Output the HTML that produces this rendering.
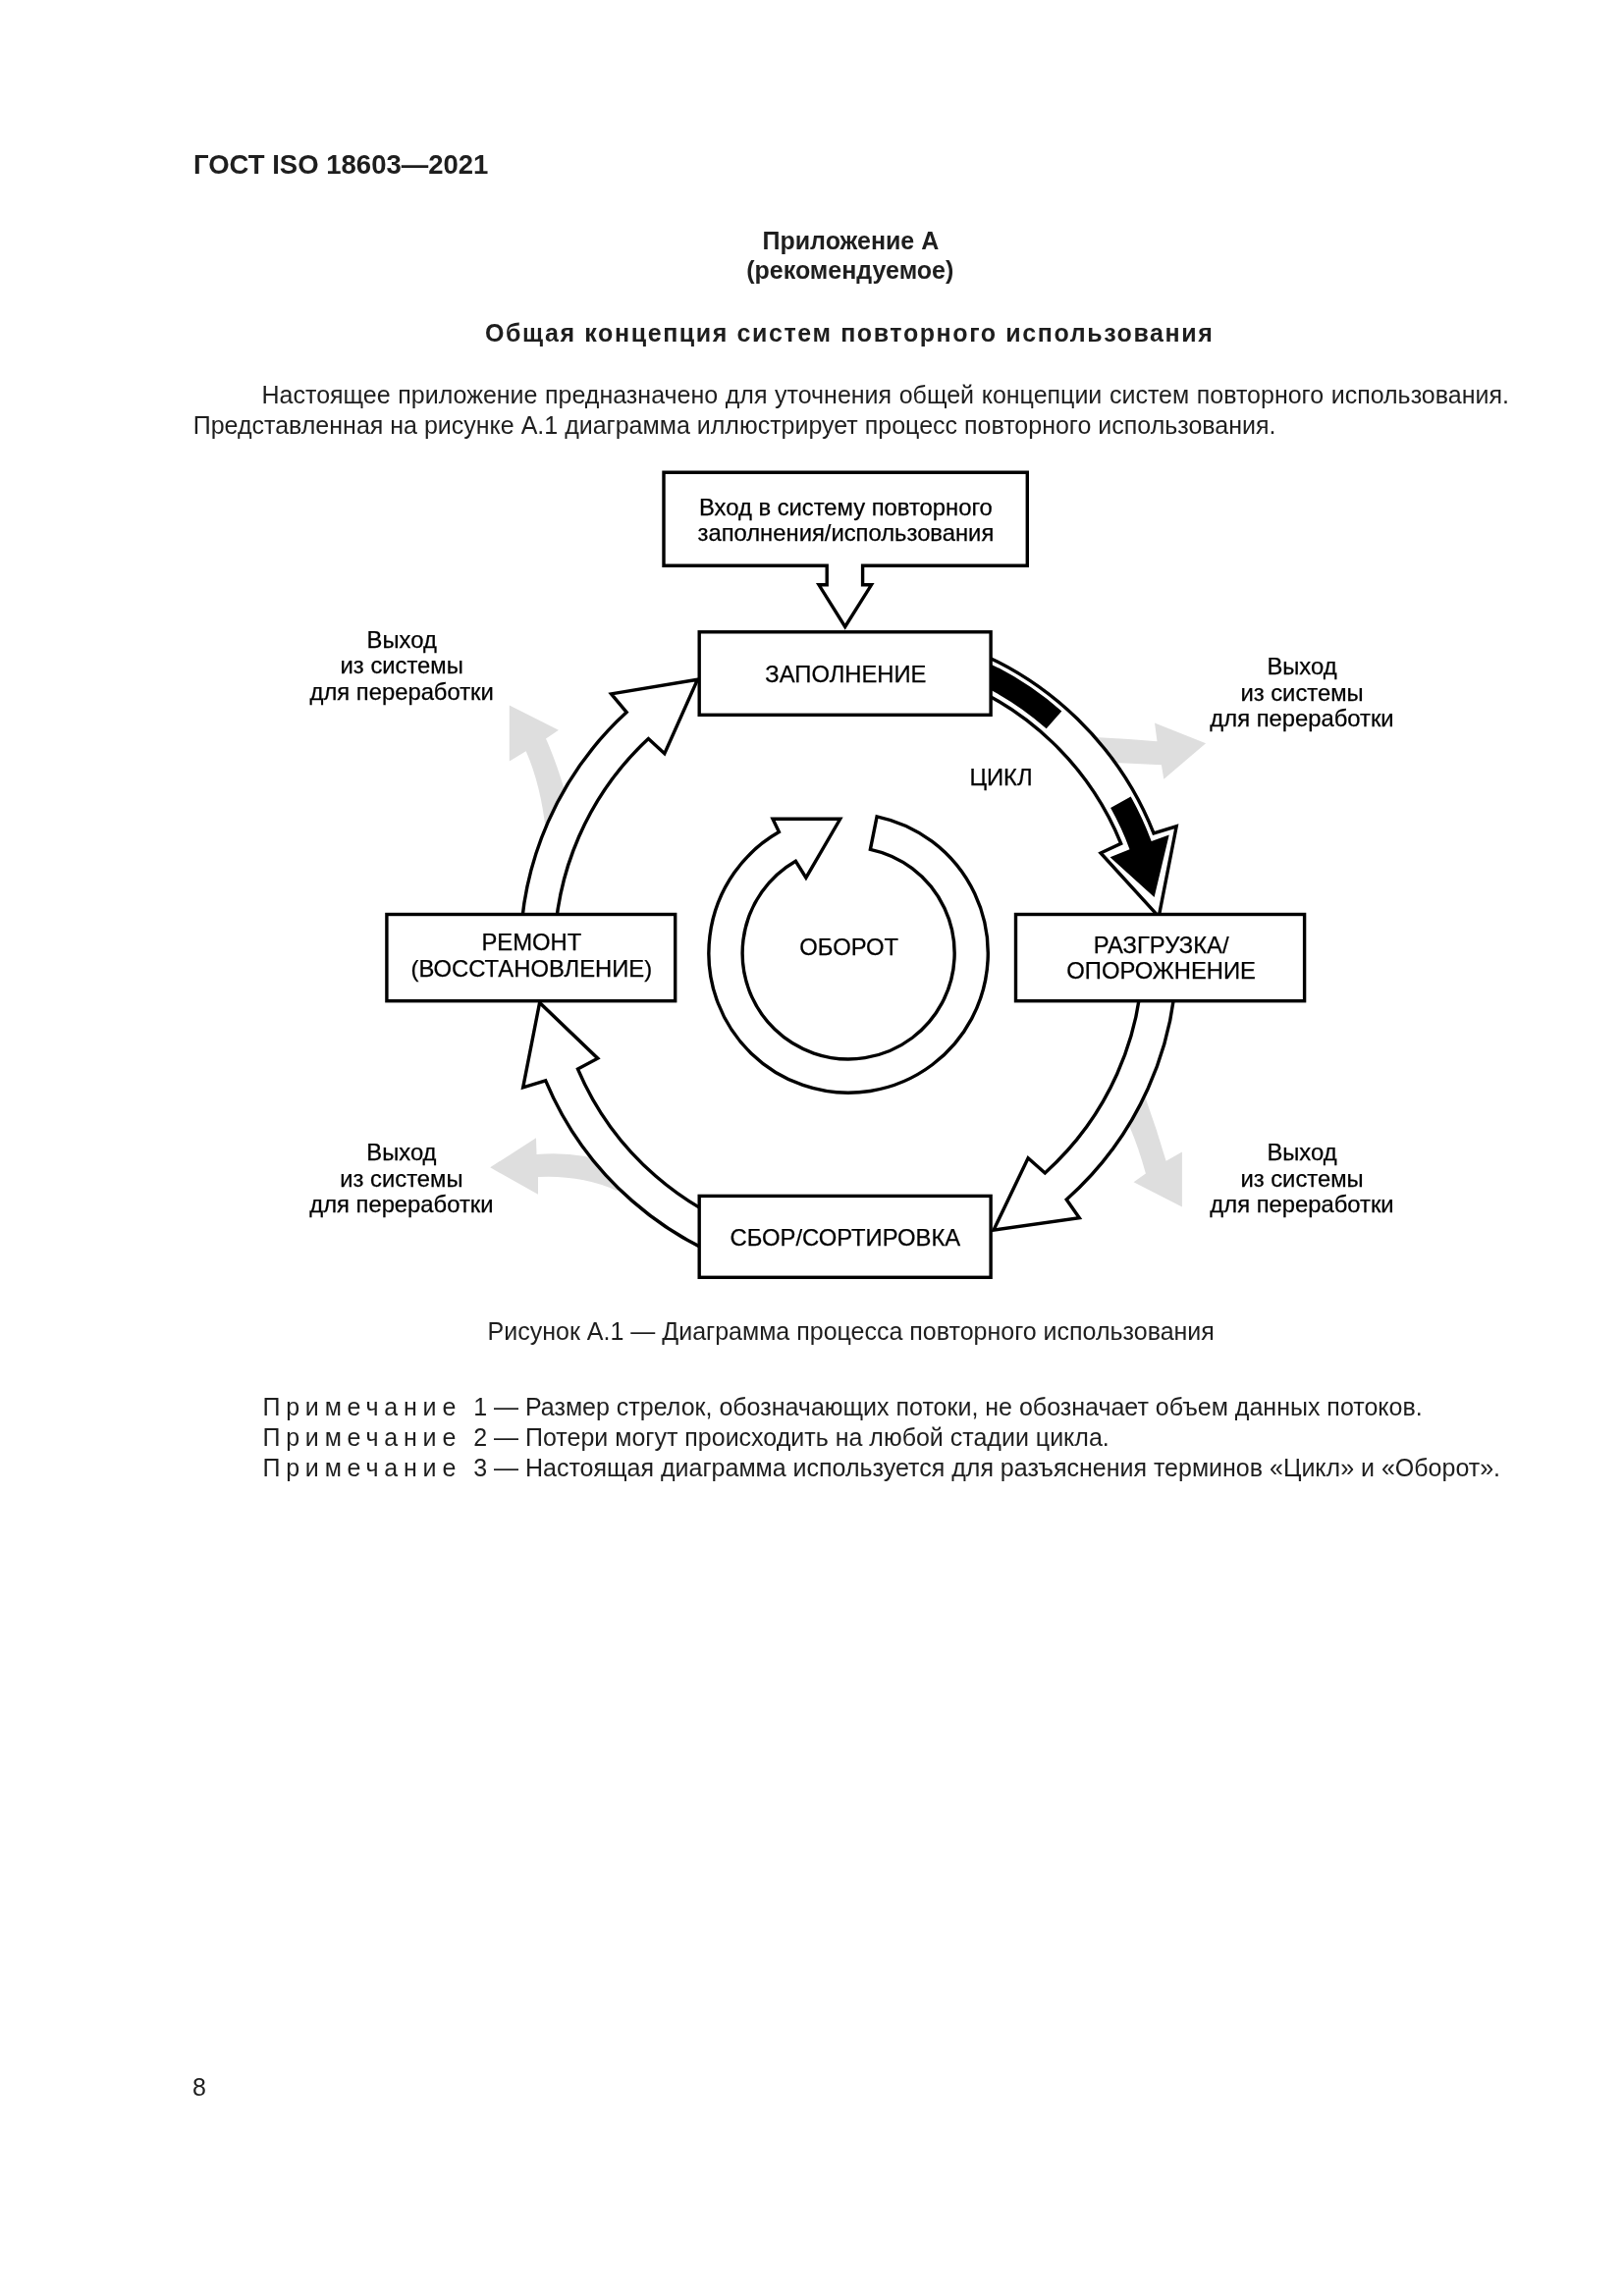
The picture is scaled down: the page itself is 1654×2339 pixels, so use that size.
<!DOCTYPE html>
<html><head><meta charset="utf-8"><title>ГОСТ ISO 18603—2021</title>
<style>html,body{margin:0;padding:0;background:#fff;width:1654px;height:2339px;overflow:hidden}
svg{display:block;will-change:transform} text{font-family:"Liberation Sans",sans-serif}</style></head>
<body>
<svg width="1654" height="2339" viewBox="0 0 1654 2339" font-family="Liberation Sans, sans-serif">
<rect width="1654" height="2339" fill="#fff"/>
<g fill="#dedede" stroke="none">
<path d="M518.8,718.6 L568.9,743.7 L556,752.5 Q566,775 575,805 L592,845 L556,848 Q551,800 535.7,765.3 L518.8,775.5 Z"/><path d="M1100,750 L1119.6,751.2 Q1150,752.5 1178.5,755.2 L1176,736.4 L1228.1,757.2 L1185.3,793.7 L1182.9,779.2 L1141.2,777.2 L1120,779 Z"/><path d="M1155,1095 L1166.9,1119.2 Q1178,1150 1187.6,1182.7 L1203.9,1173.4 L1203.9,1229.5 L1154.6,1204.2 L1166.9,1195.6 Q1160,1170 1151.2,1149.4 L1135,1125 Z"/><path d="M499.2,1189.3 L546,1159.2 L546.5,1176 Q572,1174 596,1178 L620,1185 L650,1200 L627.8,1212.9 Q592.1,1197 548,1199.1 L548,1216.8 Z"/>
</g>
<g fill="#fff" stroke="#000" stroke-width="3.4" stroke-linejoin="miter" stroke-miterlimit="10">
<path d="M529.9,972.0 A334.3,334.3 0 0 1 638.2,725.6 L622.5,706.9 L710.5,692.2 L676.8,767.7 L660.4,752.5 A299.5,299.5 0 0 0 564.7,972.0 Z"/><path d="M978.5,657.9 A334.3,334.3 0 0 1 1175.0,848.8 L1198.2,841.8 L1180.2,933.9 L1121.0,869.0 L1141.7,859.3 A299.5,299.5 0 0 0 966.6,690.6 Z"/><path d="M1198.5,972.0 A334.3,334.3 0 0 1 1086.2,1222.0 L1099.3,1240.8 L1012.0,1253.1 L1047.1,1179.7 L1064.3,1194.9 A299.5,299.5 0 0 0 1163.7,972.0 Z"/><path d="M777.7,1294.9 A334.3,334.3 0 0 1 555.7,1100.8 L532.7,1107.9 L549.6,1021.4 L608.8,1078.2 L588.5,1089.1 A299.5,299.5 0 0 0 786.7,1261.3 Z"/>
<path d="M893.1,831.8 A142.2,142.2 0 1 1 793.4,847.6 L787.0,834.3 L855.7,834.3 L820.9,894.1 L810.4,877.3 A108.0,108.0 0 1 0 886.4,865.3 Z"/>
</g>
<g fill="#000" stroke="none">
<path d="M976.8,662.7 A329.2,329.2 0 0 1 1081.3,724.5 L1065.7,742.2 A305.6,305.6 0 0 0 968.7,684.8 Z"/><path d="M1151.7,811.6 A329.2,329.2 0 0 1 1172.7,857.1 L1190.7,850.5 L1175.6,913.9 L1130.6,873.3 L1150.5,865.2 A305.6,305.6 0 0 0 1131.1,823.1 Z"/>
</g>
<path d="M842.2,576.2 L676,576.2 L676,481.2 L1046.3,481.2 L1046.3,576.2 L878.6,576.2 L878.6,595.8 L887.5,595.8 L860.7,638.5 L834,595.8 L842.2,595.8 Z" fill="#fff" stroke="#000" stroke-width="3.4" stroke-linejoin="miter"/>
<rect x="712.20" y="643.80" width="296.90" height="84.50" fill="#fff" stroke="#000" stroke-width="3.4"/>
<rect x="393.90" y="931.50" width="293.80" height="88.20" fill="#fff" stroke="#000" stroke-width="3.4"/>
<rect x="1034.50" y="931.50" width="294.10" height="88.20" fill="#fff" stroke="#000" stroke-width="3.4"/>
<rect x="712.20" y="1218.40" width="296.90" height="82.90" fill="#fff" stroke="#000" stroke-width="3.4"/>
<g stroke="#000" stroke-width="0.25"><text x="861.4" y="525.4" text-anchor="middle" font-size="23.8" font-weight="normal" fill="#000">Вход в систему повторного</text><text x="861.4" y="551.3" text-anchor="middle" font-size="23.8" font-weight="normal" fill="#000">заполнения/использования</text><text x="861.4" y="694.5" text-anchor="middle" font-size="23.8" font-weight="normal" fill="#000">ЗАПОЛНЕНИЕ</text><text x="541.3" y="968.4" text-anchor="middle" font-size="23.8" font-weight="normal" fill="#000">РЕМОНТ</text><text x="541.3" y="994.6" text-anchor="middle" font-size="23.8" font-weight="normal" fill="#000">(ВОССТАНОВЛЕНИЕ)</text><text x="1182.6" y="970.9" text-anchor="middle" font-size="23.8" font-weight="normal" fill="#000">РАЗГРУЗКА/</text><text x="1182.6" y="997.2" text-anchor="middle" font-size="23.8" font-weight="normal" fill="#000">ОПОРОЖНЕНИЕ</text><text x="860.9" y="1268.7" text-anchor="middle" font-size="23.8" font-weight="normal" fill="#000">СБОР/СОРТИРОВКА</text><text x="864.7" y="973.3" text-anchor="middle" font-size="23.8" font-weight="normal" fill="#000">ОБОРОТ</text><text x="1019.5" y="799.6" text-anchor="middle" font-size="23.8" font-weight="normal" fill="#000">ЦИКЛ</text><text x="409.2" y="660.2" text-anchor="middle" font-size="23.8" font-weight="normal" fill="#000">Выход</text><text x="409.2" y="686.3" text-anchor="middle" font-size="23.8" font-weight="normal" fill="#000">из системы</text><text x="409.2" y="712.5" text-anchor="middle" font-size="23.8" font-weight="normal" fill="#000">для переработки</text><text x="1326.0" y="686.7" text-anchor="middle" font-size="23.8" font-weight="normal" fill="#000">Выход</text><text x="1326.0" y="713.5" text-anchor="middle" font-size="23.8" font-weight="normal" fill="#000">из системы</text><text x="1326.0" y="740.3" text-anchor="middle" font-size="23.8" font-weight="normal" fill="#000">для переработки</text><text x="408.9" y="1182.3" text-anchor="middle" font-size="23.8" font-weight="normal" fill="#000">Выход</text><text x="408.9" y="1208.8" text-anchor="middle" font-size="23.8" font-weight="normal" fill="#000">из системы</text><text x="408.9" y="1235.3" text-anchor="middle" font-size="23.8" font-weight="normal" fill="#000">для переработки</text><text x="1326.0" y="1182.3" text-anchor="middle" font-size="23.8" font-weight="normal" fill="#000">Выход</text><text x="1326.0" y="1208.8" text-anchor="middle" font-size="23.8" font-weight="normal" fill="#000">из системы</text><text x="1326.0" y="1235.3" text-anchor="middle" font-size="23.8" font-weight="normal" fill="#000">для переработки</text></g>
<text x="197" y="177" text-anchor="start" font-size="27.5" font-weight="bold" fill="#1e1e1e">ГОСТ ISO 18603—2021</text><text x="866.4" y="253.7" text-anchor="middle" font-size="25" font-weight="bold" fill="#1e1e1e">Приложение А</text><text x="865.8" y="283.5" text-anchor="middle" font-size="25" font-weight="bold" fill="#1e1e1e">(рекомендуемое)</text><text x="494" y="348" text-anchor="start" font-size="25" font-weight="bold" fill="#1e1e1e" letter-spacing="1.6">Общая концепция систем повторного использования</text><text x="266.5" y="411" text-anchor="start" font-size="25" font-weight="normal" fill="#1e1e1e" word-spacing="0.65">Настоящее приложение предназначено для уточнения общей концепции систем повторного использования.</text><text x="196.7" y="441.8" text-anchor="start" font-size="25" font-weight="normal" fill="#1e1e1e">Представленная на рисунке А.1 диаграмма иллюстрирует процесс повторного использования.</text><text x="496.6" y="1365.3" text-anchor="start" font-size="25" font-weight="normal" fill="#1e1e1e">Рисунок А.1 — Диаграмма процесса повторного использования</text><text x="267.4" y="1442.1" text-anchor="start" font-size="25" font-weight="normal" fill="#1e1e1e" letter-spacing="5.8">Примечание</text><text x="482.2" y="1442.1" text-anchor="start" font-size="25" font-weight="normal" fill="#1e1e1e">1 — Размер стрелок, обозначающих потоки, не обозначает объем данных потоков.</text><text x="267.4" y="1473.1" text-anchor="start" font-size="25" font-weight="normal" fill="#1e1e1e" letter-spacing="5.8">Примечание</text><text x="482.2" y="1473.1" text-anchor="start" font-size="25" font-weight="normal" fill="#1e1e1e">2 — Потери могут происходить на любой стадии цикла.</text><text x="267.4" y="1503.6" text-anchor="start" font-size="25" font-weight="normal" fill="#1e1e1e" letter-spacing="5.8">Примечание</text><text x="482.2" y="1503.6" text-anchor="start" font-size="25" font-weight="normal" fill="#1e1e1e">3 — Настоящая диаграмма используется для разъяснения терминов «Цикл» и «Оборот».</text><text x="196" y="2135" text-anchor="start" font-size="25" font-weight="normal" fill="#1e1e1e">8</text>
</svg>
</body></html>
